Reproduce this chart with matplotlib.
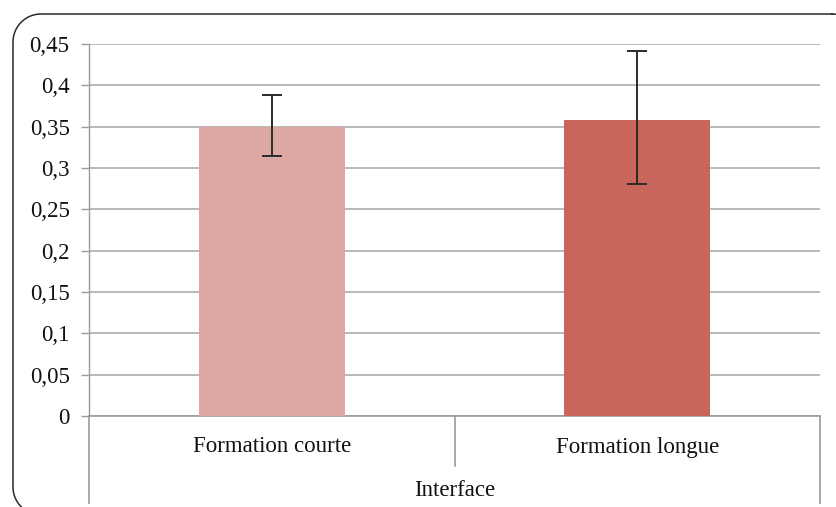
import matplotlib
matplotlib.use("Agg")
import numpy as np
import matplotlib.pyplot as plt
from matplotlib.lines import Line2D
import matplotlib.transforms as mtransforms

categories = ["Formation courte", "Formation longue"]
values = [0.35, 0.358]
err_low = [0.3145, 0.2805]
err_high = [0.3885, 0.4415]
colors = ["#DEA8A2", "#C9665C"]
yticks = [0, 0.05, 0.1, 0.15, 0.2, 0.25, 0.3, 0.35, 0.4, 0.45]
ytick_labels = ["0", "0,05", "0,1", "0,15", "0,2", "0,25", "0,3", "0,35", "0,4", "0,45"]
xlabel = "Interface"

plt.rcParams['font.family'] = ['Liberation Serif', 'DejaVu Serif']

W, H = 836, 507
fig = plt.figure(figsize=(W / 100, H / 100), dpi=100)

# background axes in pixel coordinates (origin top-left) for the rounded border
bg = fig.add_axes([0, 0, 1, 1], zorder=-1)
bg.set_xlim(0, W)
bg.set_ylim(H, 0)
bg.axis("off")
left, right, top, bottom, r = 13, 860, 14, 515, 28
pts = []
for cx, cy, a0 in [(right - r, top + r, -90), (right - r, bottom - r, 0),
                   (left + r, bottom - r, 90), (left + r, top + r, 180)]:
    th = np.radians(np.linspace(a0, a0 + 90, 20))
    pts += list(zip(cx + r * np.cos(th), cy + r * np.sin(th)))
pts.append(pts[0])
bx, by = zip(*pts)
bg.plot(bx, by, color="#2a2a2a", linewidth=1.1, clip_on=False)

ax = fig.add_axes([89 / W, 1 - 416 / H, (820 - 89) / W, (416 - 44) / H])
x = list(range(len(categories)))
yerr = [[v - lo for v, lo in zip(values, err_low)], [hi - v for v, hi in zip(values, err_high)]]
ax.bar(x, values, width=0.4, color=colors, zorder=3)
ax.errorbar(x, values, yerr=yerr, fmt="none", ecolor="#2b2b2b", elinewidth=1.4,
            capsize=7.5, capthick=1.4, zorder=4)

ax.set_xlim(-0.5, 1.5)
ax.set_ylim(0, 0.45)
ax.set_yticks(yticks)
ax.set_yticklabels(ytick_labels, fontsize=16.5, color="#111111")
ax.yaxis.grid(True, color="#ADADAD", linewidth=1.2, zorder=0)
ax.tick_params(axis="y", length=6, width=1.0, color="#9A9A9A", pad=8)
ax.set_xticks([])
for s in ["top", "right"]:
    ax.spines[s].set_visible(False)
ax.spines["left"].set_color("#9A9A9A")
ax.spines["bottom"].set_color("#9A9A9A")
ax.spines["left"].set_linewidth(1.0)
ax.spines["bottom"].set_linewidth(1.2)
ax.set_facecolor("none")

trans = mtransforms.blended_transform_factory(ax.transData, ax.transAxes)
bottom_y = -(503 - 416) / (416 - 44)
for xs in [-0.5, 0.5, 1.5]:
    yb = bottom_y if xs != 0.5 else -(466 - 416) / (416 - 44)
    ax.add_line(Line2D([xs, xs], [0, yb], transform=trans, color="#9A9A9A",
                       linewidth=1.2, clip_on=False))
for xi, c in zip(x, categories):
    ax.text(xi, -(447 - 416) / (416 - 44), c, transform=trans, ha="center",
            va="center", fontsize=16.5, color="#111111")
ax.text(0.5, -(491 - 416) / (416 - 44), xlabel, transform=trans, ha="center",
        va="center", fontsize=16.5, color="#111111")

fig.savefig("out.png", dpi=100)
